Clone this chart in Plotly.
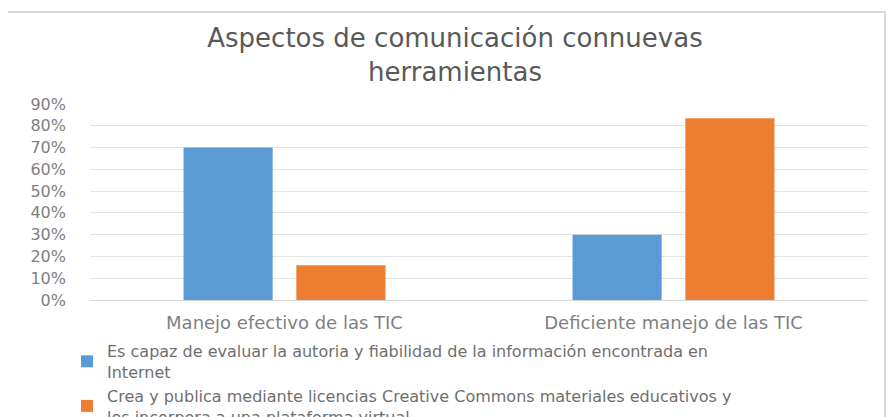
import plotly.graph_objects as go

categories = ["Manejo efectivo de las TIC", "Deficiente manejo de las TIC"]
series_names = [
    "Es capaz de evaluar la autoria y fiabilidad de la información encontrada en<br>Internet",
    "Crea y publica mediante licencias Creative Commons materiales educativos y<br>los incorpora a una plataforma virtual.",
]
serie_1 = [0.70, 0.30]
serie_2 = [0.16, 0.835]
tick_vals = [0, 0.1, 0.2, 0.3, 0.4, 0.5, 0.6, 0.7, 0.8, 0.9]
tick_text = ["0%", "10%", "20%", "30%", "40%", "50%", "60%", "70%", "80%", "90%"]
title_text = "Aspectos de comunicación connuevas<br>herramientas"

colors = ["#5B9BD5", "#ED7D31"]
FONT = "DejaVu Sans"
W, H = 894, 417

fig = go.Figure()
for name, vals, c in zip(series_names, [serie_1, serie_2], colors):
    fig.add_trace(go.Bar(x=categories, y=vals, name=name, marker_color=c,
                         marker_line_width=0))

fig.update_layout(
    width=W, height=H,
    margin=dict(l=82, r=34, t=96, b=125, autoexpand=False),
    paper_bgcolor="white", plot_bgcolor="white",
    barmode="group", bargap=0.42, bargroupgap=0.21,
    title=dict(text=title_text, x=0.5, xanchor="center", xref="container",
               y=1 - 39 / H, yanchor="top", yref="container",
               font=dict(family=FONT, size=26, color="#595959")),
    font=dict(family=FONT, color="#7f7f7f"),
    showlegend=True,
    legend=dict(orientation="v", xref="container", yref="container",
                x=59 / W, xanchor="left", y=1 - 326 / H, yanchor="top",
                font=dict(family=FONT, size=16, color="#6f6f6f"),
                tracegroupgap=0, bgcolor="rgba(0,0,0,0)"),
    xaxis=dict(showline=False, ticks="", ticklabelstandoff=10,
               tickfont=dict(size=18, color="#7f7f7f")),
    yaxis=dict(range=[0, 0.9], tickvals=tick_vals, ticktext=tick_text,
               showgrid=True, gridcolor="#e3e3e3", gridwidth=1,
               zeroline=True, zerolinecolor="#d9d9d9", zerolinewidth=1,
               showline=False, ticks="", ticklabelstandoff=23,
               tickfont=dict(size=16, color="#7f7f7f")),
    shapes=[dict(type="rect", xref="paper", yref="paper",
                 x0=-0.108, x1=1.0219, y0=-0.7, y1=1.469,
                 line=dict(color="#d9d9d9", width=2), fillcolor="rgba(0,0,0,0)",
                 layer="below")],
)

fig.write_html("out.html")
